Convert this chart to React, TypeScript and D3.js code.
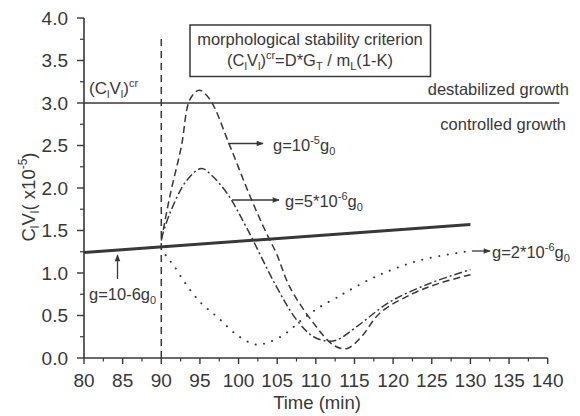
import React from "react";
import * as d3 from "d3";

const xTicks = [80, 85, 90, 95, 100, 105, 110, 115, 120, 125, 130, 135, 140];
const yTicks = [0, 0.5, 1, 1.5, 2, 2.5, 3, 3.5, 4];

const seriesFast: [number, number][] = [
  [90, 1.38], [91.1, 1.9], [92.6, 2.49], [93.7, 3.04], [94.9, 3.15], [96.3, 3.04],
  [98.9, 2.49], [101.5, 1.9], [103.6, 1.47], [104.9, 1.23], [106.6, 0.84], [109.7, 0.41],
  [112.3, 0.15], [114, 0.11], [115.9, 0.25], [118.3, 0.53], [122.6, 0.76], [126, 0.88], [130, 0.98],
];
const seriesMid: [number, number][] = [
  [90, 1.4], [91.1, 1.7], [93.3, 2.09], [95.2, 2.23], [96.5, 2.15], [98.5, 1.94], [101, 1.54],
  [104.9, 0.84], [107.5, 0.45], [109.7, 0.25], [111.4, 0.2], [112.7, 0.21], [115.3, 0.37],
  [119.6, 0.66], [124.8, 0.88], [130, 1.04],
];
const seriesSlow: [number, number][] = [
  [90, 1.3], [90.7, 1.19], [91.6, 1.09], [93.1, 0.88], [95, 0.66], [97.4, 0.47], [99.8, 0.27],
  [102.1, 0.16], [103.4, 0.17], [105.8, 0.27], [108.2, 0.45], [110.5, 0.6], [112.9, 0.72],
  [114, 0.78], [118.3, 0.98], [123.5, 1.15], [130, 1.26],
];
const seriesBase: [number, number][] = [[80, 1.24], [130, 1.57]];
const criticalValue = 3.0;
const criticalRange = [80, 141.5];
const startTime = 90;
const startLineTop = 3.8;

const W = 580, H = 416;
const INK = "#383838";
const FONT = "'Liberation Sans', Arial, Helvetica, sans-serif";

export default function App() {
  const x = d3.scaleLinear().domain([80, 140]).range([84, 547.7]);
  const y = d3.scaleLinear().domain([0, 4]).range([358, 18]);
  const line = d3.line<[number, number]>().x(d => x(d[0])).y(d => y(d[1])).curve(d3.curveCatmullRom.alpha(0.5));
  const fmt = d3.format(".1f");
  const yMinor = d3.range(0.25, 4, 0.5);
  const xMinor = d3.range(82.5, 140, 5);
  const fs = 16.5;
  const ss = 11;

  return (
    <svg width={W} height={H} style={{ position: "absolute", left: 0, top: 0, background: "#fff" }}
      fontFamily={FONT} fill={INK}>
      <defs>
        <marker id="ah" viewBox="0 0 10 10" refX="9" refY="5" markerWidth="9" markerHeight="7" markerUnits="userSpaceOnUse" orient="auto">
          <path d="M0,1 L10,5 L0,9 z" fill={INK} />
        </marker>
      </defs>
      <rect x={0} y={0} width={W} height={H} fill="#fff" />
      {/* axes */}
      <line x1={x(80)} x2={x(80)} y1={y(0)} y2={y(4)} stroke={INK} strokeWidth={1.6} />
      <line x1={x(80)} x2={x(140)} y1={y(0)} y2={y(0)} stroke={INK} strokeWidth={1.6} />
      {yTicks.map(t => (
        <g key={"y" + t}>
          <line x1={x(80) - 7} x2={x(80)} y1={y(t)} y2={y(t)} stroke={INK} strokeWidth={1.4} />
          <text x={68} y={y(t) + 6.5} textAnchor="end" fontSize={19}>{fmt(t)}</text>
        </g>
      ))}
      {yMinor.map(t => (
        <line key={"ym" + t} x1={x(80) - 4} x2={x(80)} y1={y(t)} y2={y(t)} stroke={INK} strokeWidth={1.2} />
      ))}
      {xTicks.map(t => (
        <g key={"x" + t}>
          <line x1={x(t)} x2={x(t)} y1={y(0)} y2={y(0) + 6} stroke={INK} strokeWidth={1.4} />
          <text x={x(t)} y={387} textAnchor="middle" fontSize={19}>{t}</text>
        </g>
      ))}
      {xMinor.map(t => (
        <line key={"xm" + t} x1={x(t)} x2={x(t)} y1={y(0)} y2={y(0) + 3.5} stroke={INK} strokeWidth={1.2} />
      ))}
      <text x={317} y={409} textAnchor="middle" fontSize={18.5}>Time (min)</text>
      <text transform="translate(35,197) rotate(-90)" textAnchor="middle" fontSize={18.5}>
        C<tspan fontSize={12} dy={4}>l</tspan><tspan dy={-4}>V</tspan><tspan fontSize={12} dy={4}>l</tspan>
        <tspan dy={-4}>( x10</tspan><tspan fontSize={12} dy={-8}>-5</tspan><tspan dy={8}>)</tspan>
      </text>

      {/* reference lines */}
      <line x1={x(criticalRange[0])} x2={x(criticalRange[1])} y1={y(criticalValue)} y2={y(criticalValue)} stroke={INK} strokeWidth={1.5} />
      <line x1={x(startTime)} x2={x(startTime)} y1={y(0)} y2={y(startLineTop)} stroke={INK} strokeWidth={1.5} strokeDasharray="7,5" />
      <path d={line(seriesBase) || ""} fill="none" stroke={INK} strokeWidth={3} />

      {/* curves */}
      <path d={line(seriesFast) || ""} fill="none" stroke={INK} strokeWidth={1.5} strokeDasharray="7,4" />
      <path d={line(seriesMid) || ""} fill="none" stroke={INK} strokeWidth={1.5} strokeDasharray="8,3,2,3" />
      <path d={line(seriesSlow) || ""} fill="none" stroke={INK} strokeWidth={2} strokeDasharray="0.1,8.5" strokeLinecap="round" />

      {/* box */}
      <rect x={190} y={25} width={240.5} height={51.5} fill="#fff" stroke={INK} strokeWidth={1.5} />
      <text x={310} y={45} textAnchor="middle" fontSize={fs}>morphological stability criterion</text>
      <text x={310} y={66} textAnchor="middle" fontSize={fs}>
        (C<tspan fontSize={ss} dy={4}>l</tspan><tspan dy={-4}>V</tspan><tspan fontSize={ss} dy={4}>l</tspan>
        <tspan dy={-4}>)</tspan><tspan fontSize={ss} dy={-7}>cr</tspan><tspan dy={7}>=D*G</tspan>
        <tspan fontSize={ss} dy={4}>T</tspan><tspan dy={-4}> / m</tspan><tspan fontSize={ss} dy={4}>L</tspan>
        <tspan dy={-4}>(1-K)</tspan>
      </text>

      <text x={89} y={94} fontSize={17}>
        (C<tspan fontSize={ss} dy={4}>l</tspan><tspan dy={-4}>V</tspan><tspan fontSize={ss} dy={4}>l</tspan>
        <tspan dy={-4}>)</tspan><tspan fontSize={ss} dy={-7}>cr</tspan>
      </text>
      <text x={569} y={95} textAnchor="end" fontSize={fs}>destabilized growth</text>
      <text x={566} y={130} textAnchor="end" fontSize={fs}>controlled growth</text>

      {/* annotations */}
      <line x1={228} x2={263} y1={143.5} y2={143.5} stroke={INK} strokeWidth={1.3} markerEnd="url(#ah)" />
      <text x={273} y={151} fontSize={fs}>
        g=10<tspan fontSize={ss} dy={-7}>-5</tspan><tspan dy={7}>g</tspan><tspan fontSize={ss} dy={4}>0</tspan>
      </text>
      <line x1={232} x2={279} y1={200} y2={200} stroke={INK} strokeWidth={1.3} markerEnd="url(#ah)" />
      <text x={285} y={207} fontSize={fs}>
        g=5*10<tspan fontSize={ss} dy={-7}>-6</tspan><tspan dy={7}>g</tspan><tspan fontSize={ss} dy={4}>0</tspan>
      </text>
      <line x1={472} x2={490} y1={251} y2={251} stroke={INK} strokeWidth={1.3} markerEnd="url(#ah)" />
      <text x={492} y={258} fontSize={fs}>
        g=2*10<tspan fontSize={ss} dy={-7}>-6</tspan><tspan dy={7}>g</tspan><tspan fontSize={ss} dy={4}>0</tspan>
      </text>
      <line x1={117.5} x2={117.5} y1={279} y2={255} stroke={INK} strokeWidth={1.3} markerEnd="url(#ah)" />
      <text x={89} y={300} fontSize={fs}>
        g=10-6g<tspan fontSize={ss} dy={4}>0</tspan>
      </text>
    </svg>
  );
}
